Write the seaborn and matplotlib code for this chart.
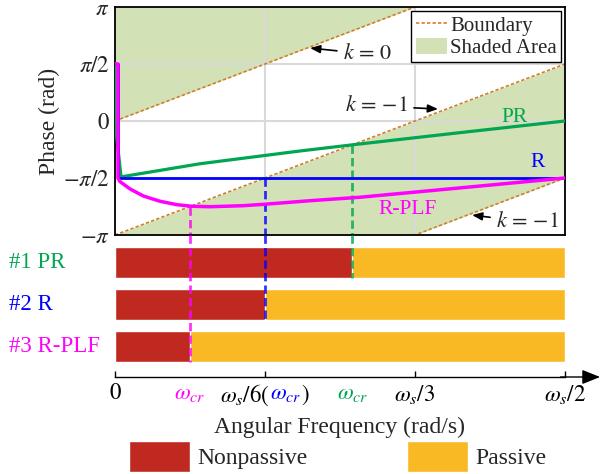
import numpy as np
import pandas as pd
import seaborn as sns
import matplotlib.pyplot as plt
import matplotlib.transforms as mtransforms
from matplotlib.lines import Line2D
from matplotlib.patches import Patch

sns.set_theme(style="white")
plt.rcParams['font.family'] = ['Liberation Serif', 'DejaVu Serif']
plt.rcParams['mathtext.fontset'] = 'stix'

# ---------------- data (frequency as fraction of ws, phase in units of pi) ----------------
pr_freq = [0.0, 0.0, 0.0067, 0.0944, 0.2056, 0.2637, 0.38, 0.5]
pr_phase = [0.5, 0.0, -0.49, -0.375, -0.263, -0.209, -0.105, 0.0]
r_freq = [0.0, 0.0033, 0.0033, 0.5]
r_phase = [0.5, 0.5, -0.5, -0.5]
plf_freq = [0.0, 0.0033, 0.0033, 0.0056, 0.0167, 0.0315, 0.05, 0.0686, 0.0852, 0.1056,
            0.142, 0.165, 0.217, 0.272, 0.398, 0.5]
plf_phase = [0.5, 0.5, -0.5, -0.532, -0.596, -0.658, -0.704, -0.734, -0.748, -0.752,
             -0.743, -0.731, -0.699, -0.669, -0.576, -0.5]

schemes = ['#1 PR', '#2 R', '#3 R-PLF']
cr_freq = [0.2637, 1 / 6, 0.0833]          # crossover frequencies
cr_phase = [-0.209, -0.5, -0.75]            # phase at crossover (units of pi)
band_end = [0.5, 0.5, 0.5]

boundary_k = [0, -1, -2]                    # phase offsets (units of pi) of the boundaries
boundary_freq = [0.0, 1 / 3, 0.5]
boundary_slope = 3.0                        # phase slope (pi per unit of ws)

x_ticks = [0, 1 / 6, 1 / 3, 0.5]
y_ticks = [-1, -0.5, 0, 0.5, 1]
y_ticklabels = [r'$-\pi$', r'$-\pi/2$', r'$0$', r'$\pi/2$', r'$\pi$']

# ---------------- style ----------------
C_PR = '#00A651'
C_R = '#0000FF'
C_PLF = '#FF00FF'
C_BOUND = '#D0802A'
C_SHADE = '#D3E1B6'
C_RED = '#C0291F'
C_YEL = '#F9B924'

W, H = 600, 474
fig = plt.figure(figsize=(W / 100, H / 100), dpi=100)

# ---------------- top phase plot ----------------
ax1 = fig.add_axes([115 / W, 1 - 235 / H, 450 / W, 228 / H])

fb = np.array(boundary_freq)
top0 = np.clip(boundary_slope * fb + boundary_k[0], -1, 1) * np.pi
b1 = np.clip(boundary_slope * fb + boundary_k[1], -1, 1) * np.pi
b2 = np.clip(boundary_slope * fb + boundary_k[2], -1, 1) * np.pi
ax1.fill_between(fb, top0, np.pi, color=C_SHADE, lw=0, zorder=0.2)
ax1.fill_between(fb, b2, b1, color=C_SHADE, lw=0, zorder=0.2)
for k in boundary_k:
    ax1.plot(fb, (boundary_slope * fb + k) * np.pi,
             color=C_BOUND, lw=1.2, ls=(0, (2, 1.3)), zorder=1.2)

ax1.set_axisbelow(True)
ax1.set_xticks(x_ticks)
ax1.set_xticklabels([])
ax1.set_yticks(np.array(y_ticks) * np.pi)
ax1.set_yticklabels(y_ticklabels, fontsize=16.5)
ax1.tick_params(length=0, pad=4)
ax1.grid(True, color='#D9D9D9', lw=1.5)
for s in ax1.spines.values():
    s.set_color('black')
    s.set_linewidth(1.3)
    s.set_zorder(5)
ax1.set_ylabel('Phase (rad)', fontsize=17, labelpad=2)

# crossover dashed lines (top part)
cr_colors = [C_PR, C_R, C_PLF]
for f, p, c in zip(cr_freq, cr_phase, cr_colors):
    ax1.plot([f, f], [p * np.pi, -np.pi], color=c, lw=2, ls=(0, (3, 1.5)), alpha=0.8, zorder=2)

sns.lineplot(x=pr_freq, y=np.array(pr_phase) * np.pi, estimator=None, sort=False,
             color=C_PR, lw=2.3, ax=ax1, zorder=6)
sns.lineplot(x=r_freq, y=np.array(r_phase) * np.pi, estimator=None, sort=False,
             color=C_R, lw=2.0, ax=ax1, zorder=6.1)
sns.lineplot(x=plf_freq, y=np.array(plf_phase) * np.pi, estimator=None, sort=False,
             color=C_PLF, lw=2.5, ax=ax1, zorder=6.2)
ax1.set_xlim(0, 0.5)
ax1.set_ylim(-np.pi, np.pi)

ax1.text(0.444, 0.035 * np.pi, 'PR', color=C_PR, fontsize=15.5, ha='center', va='center')
ax1.text(0.470, -0.368 * np.pi, 'R', color=C_R, fontsize=15.5, ha='center', va='center')
ax1.text(0.3256, -0.78 * np.pi, 'R-PLF', color=C_PLF, fontsize=15.5, ha='center', va='center')

arrow_kw = dict(arrowstyle='-|>,head_length=0.5,head_width=0.2', color='black', lw=1.2,
                shrinkA=2, shrinkB=0, mutation_scale=12)
ax1.annotate(r'$k\,=\,0$', xy=(0.2167, 0.64 * np.pi), xytext=(0.2533, 0.588 * np.pi),
             fontsize=16, ha='left', va='center', arrowprops=arrow_kw, zorder=7)
ax1.annotate(r'$k\,=\,{-1}$', xy=(0.3589, 0.105 * np.pi), xytext=(0.2556, 0.1316 * np.pi),
             fontsize=16, ha='left', va='center', arrowprops=arrow_kw, zorder=7)
ax1.annotate(r'$k\,=\,{-1}$', xy=(0.3967, -0.825 * np.pi), xytext=(0.4235, -0.886 * np.pi),
             fontsize=16, ha='left', va='center', arrowprops=arrow_kw, zorder=7)

leg_handles = [Line2D([], [], color=C_BOUND, lw=1.2, ls=(0, (2, 1.3))),
               Patch(facecolor=C_SHADE, edgecolor='none')]
leg = ax1.legend(leg_handles, ['Boundary', 'Shaded Area'], loc='upper right',
                 fontsize=15, frameon=True, fancybox=False, edgecolor='black',
                 borderaxespad=0.2, borderpad=0.2, handlelength=1.5, handleheight=0.8,
                 handletextpad=0.15, labelspacing=0.12, framealpha=1)
leg.get_frame().set_linewidth(1.0)
leg.set_zorder(10)

# ---------------- bottom passivity bars ----------------
ax2 = fig.add_axes([115 / W, 1 - 377 / H, 450 / W, 142 / H])
df = pd.DataFrame({'scheme': schemes, 'cr': cr_freq, 'end': band_end})
sns.barplot(data=df, x='end', y='scheme', orient='h', color=C_YEL, saturation=1,
            width=0.73, errorbar=None, ax=ax2, zorder=1)
sns.barplot(data=df, x='cr', y='scheme', orient='h', color=C_RED, saturation=1,
            width=0.73, errorbar=None, ax=ax2, zorder=1.1)
ax2.set_xlim(0, 0.5)
ax2.set_ylim(2.73, -0.65)
ax2.set_ylabel('')
ax2.set_yticks([])
for side in ['left', 'top', 'right']:
    ax2.spines[side].set_visible(False)
ax2.spines['bottom'].set_color('black')
ax2.spines['bottom'].set_linewidth(1.0)
ax2.patch.set_alpha(0)

for i, (f, c) in enumerate(zip(cr_freq, cr_colors)):
    ax2.plot([f, f], [-0.65, i + 0.365], color=c, lw=2, ls=(0, (3, 1.5)), alpha=0.8, zorder=3)

label_tf = mtransforms.blended_transform_factory(fig.transFigure, ax2.transData)
for i, (name, c) in enumerate(zip(schemes, cr_colors)):
    ax2.text(9 / W, i, name, color=c, fontsize=16.5, ha='left', va='center', transform=label_tf)

ax2.annotate('', xy=(1.078, 0), xytext=(0.99, 0), xycoords='axes fraction',
             arrowprops=dict(arrowstyle='-|>,head_length=0.55,head_width=0.22', color='black',
                             lw=1.0, mutation_scale=20, shrinkA=0, shrinkB=0),
             annotation_clip=False)
ax2.set_xticks(x_ticks)
ax2.set_xticklabels([])
ax2.tick_params(axis='x', bottom=True, direction='in', length=4, width=1, color='black')
ax2.set_xlabel('Angular Frequency (rad/s)', fontsize=17, labelpad=25)

tick_tf = mtransforms.offset_copy(ax2.get_xaxis_transform(), fig=fig, x=0, y=-6, units='dots')
tick_texts = [(0, '$0$', 'black'), (1 / 3, r'$\omega_s/3$', 'black'), (0.5, r'$\omega_s/2$', 'black'),
              (cr_freq[2], r'$\omega_{cr}$', C_PLF), (cr_freq[0], r'$\omega_{cr}$', C_PR)]
for xv, s, c in tick_texts:
    ax2.text(xv, 0, s, color=c, fontsize=16.5, ha='center', va='top', transform=tick_tf)

# composite "ws/6(wcr)" label
parts = [(r'$\omega_s/6($', 'black'), (r'$\omega_{cr}$', C_R), (r'$)$', 'black')]
fig.canvas.draw()
renderer = fig.canvas.get_renderer()
tmp = [ax2.text(0, 0, s, fontsize=16.5) for s, _ in parts]
widths = [t.get_window_extent(renderer).width for t in tmp]
for t in tmp:
    t.remove()
start = -sum(widths) / 2
for (s, c), w in zip(parts, widths):
    tf = mtransforms.offset_copy(ax2.get_xaxis_transform(), fig=fig, x=start, y=-6, units='dots')
    ax2.text(1 / 6, 0, s, color=c, fontsize=16.5, ha='left', va='top', transform=tf)
    start += w

# bottom legend
fig.legend([Patch(facecolor=C_RED), Patch(facecolor=C_YEL)], ['Nonpassive', 'Passive'],
           loc='lower left', bbox_to_anchor=(129 / W, 2 / H), ncol=2, frameon=False,
           fontsize=17, borderpad=0, borderaxespad=0, handlelength=2.6, handleheight=1.65,
           handletextpad=0.3, columnspacing=4.2)

fig.savefig('out.png', dpi=100)
